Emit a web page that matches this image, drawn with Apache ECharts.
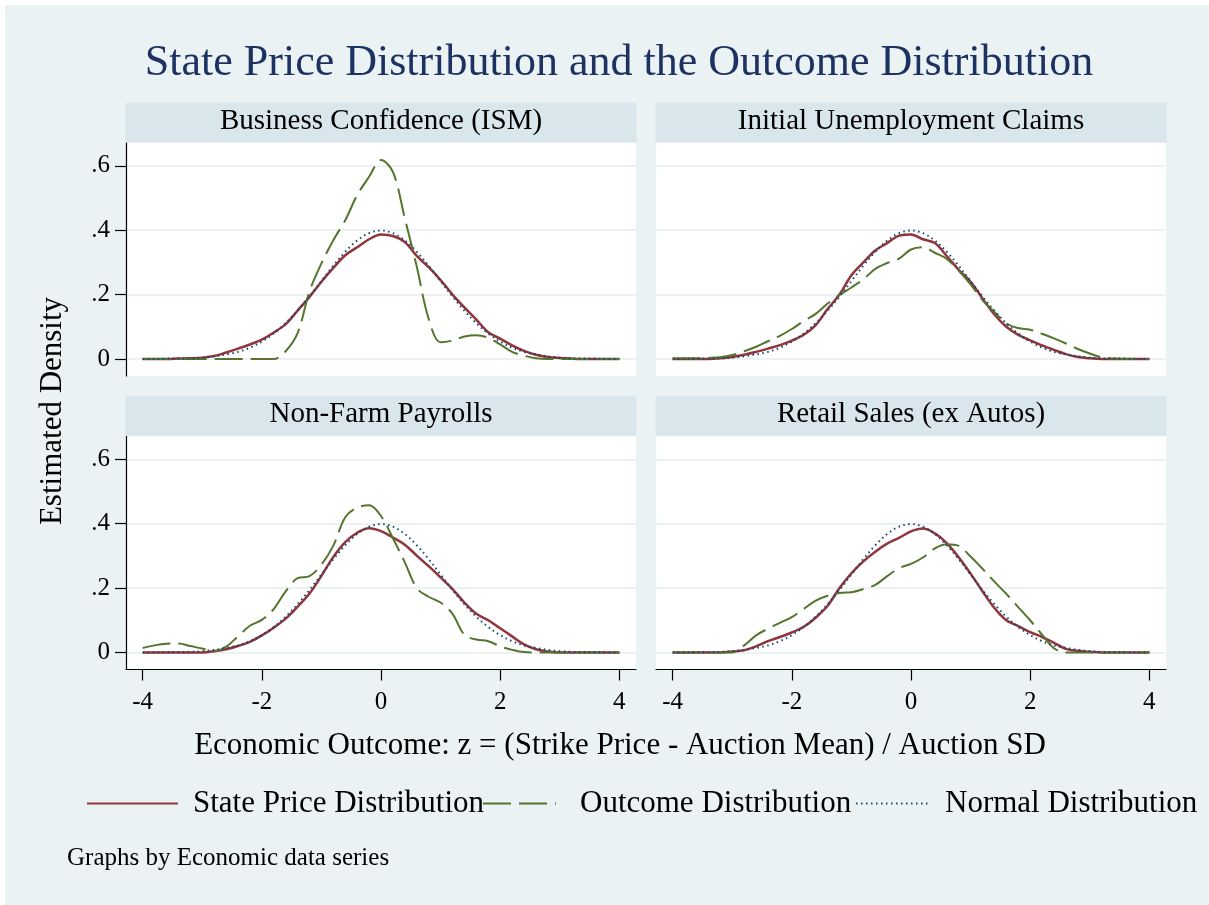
<!DOCTYPE html>
<html>
<head>
<meta charset="utf-8">
<title>State Price Distribution and the Outcome Distribution</title>
<script src="https://cdn.jsdelivr.net/npm/echarts@6.0.0/dist/echarts.min.js"></script>
<style>
  * { margin: 0; padding: 0; }
  body { background: #fff; }
  #chart { width: 1209px; height: 905px; }
</style>
</head>
<body>
<div id="chart"></div>
<script>
const zGrid = [-4, -3.8, -3.6, -3.4, -3.2, -3, -2.8, -2.6, -2.4, -2.2, -2, -1.8, -1.6, -1.4, -1.2, -1, -0.8, -0.6, -0.4, -0.2,
               0, 0.2, 0.4, 0.6, 0.8, 1, 1.2, 1.4, 1.6, 1.8, 2, 2.2, 2.4, 2.6, 2.8, 3, 3.2, 3.4, 3.6, 3.8, 4];

// dotted reference curve, same in every panel
const normalPdf = [0, 0, 0.001, 0.001, 0.002, 0.004, 0.008, 0.014, 0.022, 0.035, 0.054, 0.079, 0.111, 0.150, 0.194, 0.242, 0.290, 0.333, 0.368, 0.391,
                   0.399, 0.391, 0.368, 0.333, 0.290, 0.242, 0.194, 0.150, 0.111, 0.079, 0.054, 0.035, 0.022, 0.014, 0.008, 0.004, 0.002, 0.001, 0.001, 0, 0];

// Business Confidence (ISM)
const ismState = [0, 0, 0, 0.001, 0.002, 0.004, 0.009, 0.02, 0.032, 0.045, 0.06, 0.082, 0.108, 0.15, 0.193, 0.24, 0.283, 0.322, 0.347, 0.372,
                  0.387, 0.382, 0.363, 0.32, 0.285, 0.245, 0.2, 0.16, 0.122, 0.083, 0.063, 0.042, 0.025, 0.013, 0.006, 0.003, 0.001, 0, 0, 0, 0];
const ismOutcome = [0, 0, 0, 0, 0, 0, 0, 0, 0, 0, 0, 0, 0.024, 0.08, 0.21, 0.297, 0.369, 0.431, 0.509, 0.566,
                    0.618, 0.581, 0.437, 0.287, 0.125, 0.052, 0.057, 0.07, 0.074, 0.066, 0.045, 0.022, 0.01, 0.002, 0, 0, 0, 0, 0, 0, 0];

// Initial Unemployment Claims
const claimsState = [0, 0, 0, 0, 0.002, 0.006, 0.013, 0.022, 0.032, 0.043, 0.057, 0.075, 0.105, 0.155, 0.2, 0.26, 0.3, 0.337, 0.36, 0.383,
                     0.387, 0.372, 0.36, 0.32, 0.277, 0.24, 0.188, 0.138, 0.1, 0.075, 0.058, 0.042, 0.028, 0.015, 0.006, 0.002, 0, 0, 0, 0, 0];
const claimsOutcome = [0.002, 0.002, 0.002, 0.003, 0.005, 0.012, 0.024, 0.038, 0.055, 0.072, 0.093, 0.118, 0.14, 0.172, 0.199, 0.222, 0.247, 0.28, 0.298, 0.312,
                       0.34, 0.347, 0.33, 0.311, 0.275, 0.232, 0.183, 0.146, 0.11, 0.096, 0.091, 0.078, 0.064, 0.048, 0.031, 0.017, 0.005, 0.001, 0, 0, 0];

// Non-Farm Payrolls
const nfpState = [0, 0, 0, 0, 0, 0, 0.004, 0.01, 0.02, 0.033, 0.053, 0.077, 0.105, 0.142, 0.183, 0.238, 0.297, 0.343, 0.372, 0.386,
                  0.377, 0.357, 0.335, 0.301, 0.268, 0.233, 0.197, 0.155, 0.12, 0.1, 0.075, 0.05, 0.025, 0.01, 0.003, 0, 0, 0, 0, 0, 0];
const nfpOutcome = [0.014, 0.022, 0.027, 0.028, 0.02, 0.012, 0.003, 0.018, 0.05, 0.083, 0.101, 0.135, 0.19, 0.231, 0.237, 0.273, 0.332, 0.42, 0.45, 0.457,
                    0.424, 0.355, 0.28, 0.2, 0.173, 0.155, 0.12, 0.055, 0.04, 0.035, 0.019, 0.008, 0.001, 0, 0, 0, 0, 0, 0, 0, 0];

// Retail Sales (ex Autos)
const retailState = [0, 0, 0, 0, 0, 0.003, 0.007, 0.019, 0.035, 0.048, 0.062, 0.08, 0.108, 0.145, 0.2, 0.246, 0.283, 0.313, 0.338, 0.356,
                     0.376, 0.385, 0.37, 0.34, 0.296, 0.245, 0.19, 0.138, 0.1, 0.082, 0.063, 0.048, 0.03, 0.011, 0.005, 0.002, 0, 0, 0, 0, 0];
const retailOutcome = [0, 0, 0, 0, 0, 0, 0.022, 0.053, 0.074, 0.092, 0.11, 0.135, 0.161, 0.176, 0.185, 0.187, 0.197, 0.21, 0.237, 0.262,
                       0.275, 0.295, 0.323, 0.336, 0.331, 0.298, 0.26, 0.22, 0.182, 0.141, 0.1, 0.055, 0.013, 0, 0, 0, 0, 0, 0, 0, 0];

const xTicks = [-4, -2, 0, 2, 4];
const yTicks = [0, 0.2, 0.4, 0.6];
const seriesNames = ['State Price Distribution', 'Outcome Distribution', 'Normal Distribution'];
const panelTitles = ['Business Confidence (ISM)', 'Initial Unemployment Claims', 'Non-Farm Payrolls', 'Retail Sales (ex Autos)'];

const FONT = '"Liberation Serif", "Times New Roman", serif';
const BG = '#EAF2F3';
const STRIP = '#D9E6EB';
const colors = ['#90353B', '#55752F', '#1A476F'];
const lineTypes = ['solid', [28, 8], [1.5, 3.5]];
const lineWidths = [2.5, 2, 2];

const W = 510, H = 233;
const panels = [
  { title: panelTitles[0], state: ismState, outcome: ismOutcome, left: 126, top: 143, showY: true, showX: false },
  { title: panelTitles[1], state: claimsState, outcome: claimsOutcome, left: 656, top: 143, showY: false, showX: false },
  { title: panelTitles[2], state: nfpState, outcome: nfpOutcome, left: 126, top: 436.5, showY: true, showX: true },
  { title: panelTitles[3], state: retailState, outcome: retailOutcome, left: 656, top: 436.5, showY: false, showX: true }
];

const toPairs = ys => zGrid.map((z, i) => [z, ys[i]]);

const grids = [], xAxes = [], yAxes = [], series = [];
const graphics = [
  { type: 'rect', z: -10, shape: { x: 5, y: 5, width: 1204, height: 900 }, style: { fill: BG } }
];

panels.forEach((p, i) => {
  grids.push({ left: p.left, top: p.top, width: W, height: H, show: true, backgroundColor: '#fff', borderWidth: 0 });
  xAxes.push({
    type: 'value', gridIndex: i, min: -4.28, max: 4.28,
    axisLine: { show: p.showX, onZero: false, lineStyle: { color: '#000', width: 1.2 } },
    axisTick: { show: p.showX, length: 11, customValues: xTicks, lineStyle: { color: '#000', width: 1.2 } },
    axisLabel: { show: p.showX, customValues: xTicks, margin: 20, color: '#000', fontFamily: FONT, fontSize: 25 },
    splitLine: { show: false }
  });
  yAxes.push({
    type: 'value', gridIndex: i, min: -0.053, max: 0.671,
    axisLine: { show: p.showY, onZero: false, lineStyle: { color: '#000', width: 1.2 } },
    axisTick: { show: p.showY, length: 11, customValues: yTicks, lineStyle: { color: '#000', width: 1.2 } },
    axisLabel: {
      show: p.showY, customValues: yTicks, margin: 16, color: '#000', fontFamily: FONT, fontSize: 25,
      formatter: v => (v === 0 ? '0' : String(Math.round(v * 10) / 10).replace(/^0/, ''))
    },
    splitLine: { show: true, lineStyle: { color: BG, width: 2 } }
  });

  [p.state, p.outcome, normalPdf].forEach((ys, k) => {
    series.push({
      name: seriesNames[k], type: 'line', xAxisIndex: i, yAxisIndex: i,
      data: toPairs(ys), symbol: 'none', smooth: 0.35,
      lineStyle: { color: colors[k], width: lineWidths[k], type: lineTypes[k] },
      itemStyle: { color: colors[k] },
      z: 2 + k
    });
  });

  // panel header strip
  graphics.push({ type: 'rect', z: -5, shape: { x: p.left - 0.5, y: p.top - 40.3, width: W + 1, height: 39.6 }, style: { fill: STRIP } });
  graphics.push({
    type: 'text', x: p.left + W / 2, y: p.top - 22,
    style: { text: p.title, font: '29px ' + FONT, fill: '#000', textAlign: 'center', textVerticalAlign: 'middle' }
  });
});

graphics.push(
  { type: 'text', x: 619, y: 63, style: { text: 'State Price Distribution and the Outcome Distribution', font: '44px ' + FONT, fill: '#1E3262', textAlign: 'center', textVerticalAlign: 'middle' } },
  { type: 'text', x: 53, y: 411, rotation: Math.PI / 2, style: { text: 'Estimated Density', font: '31px ' + FONT, fill: '#000', textAlign: 'center', textVerticalAlign: 'middle' } },
  { type: 'text', x: 620, y: 746, style: { text: 'Economic Outcome: z = (Strike Price - Auction Mean) / Auction SD', font: '31px ' + FONT, fill: '#000', textAlign: 'center', textVerticalAlign: 'middle' } },
  { type: 'text', x: 67, y: 858, style: { text: 'Graphs by Economic data series', font: '25px ' + FONT, fill: '#000', textAlign: 'left', textVerticalAlign: 'middle' } }
);

// one legend per entry so each sits where the original put it
const legendSpec = [
  { left: 86, width: 91, pad: 10 },
  { left: 482, width: 73, pad: 19 },
  { left: 855, width: 74, pad: 10 }
];
const legends = seriesNames.map((n, k) => ({
  data: [n], left: legendSpec[k].left, top: 788, orient: 'horizontal', padding: 0,
  itemWidth: legendSpec[k].width, itemHeight: 20, selectedMode: false,
  itemStyle: { opacity: 0 },
  textStyle: { fontFamily: FONT, fontSize: 31, color: '#000', padding: [0, 0, 0, legendSpec[k].pad] }
}));

const chart = echarts.init(document.getElementById('chart'));
chart.setOption({
  backgroundColor: '#fff',
  animation: false,
  grid: grids,
  xAxis: xAxes,
  yAxis: yAxes,
  legend: legends,
  graphic: graphics,
  series: series
});
</script>
</body>
</html>
